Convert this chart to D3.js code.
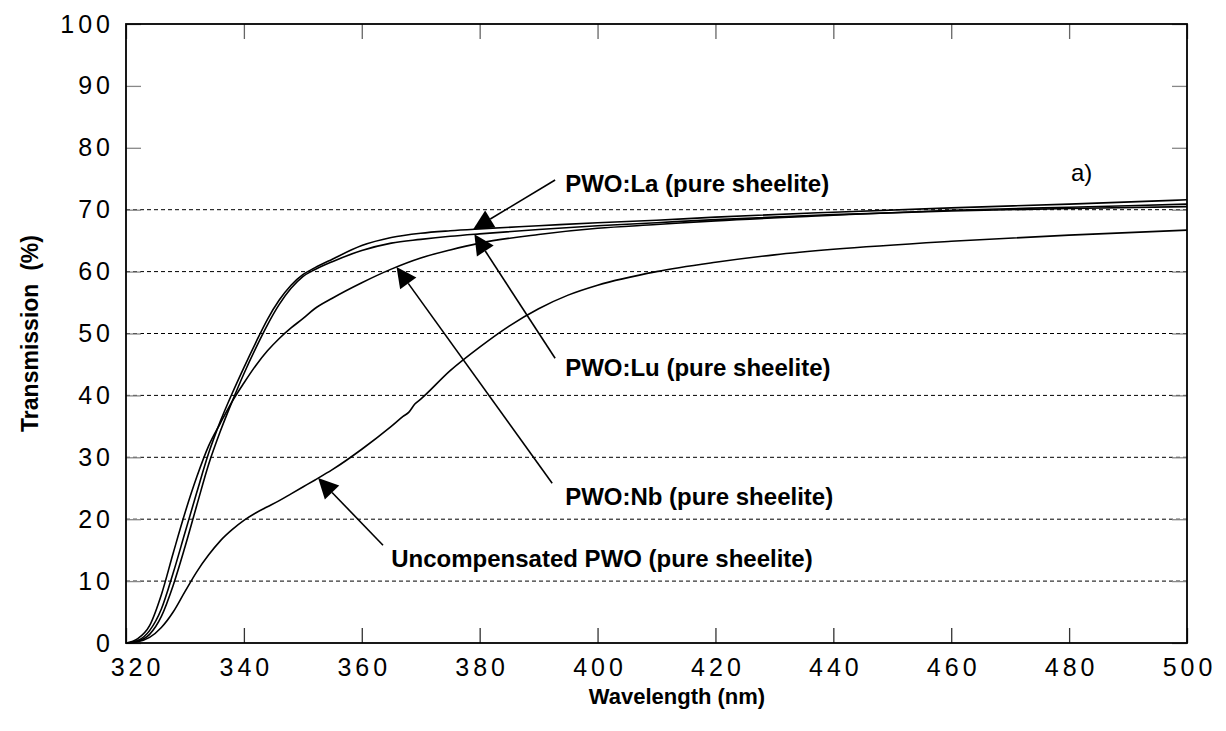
<!DOCTYPE html>
<html>
<head>
<meta charset="utf-8">
<script src="https://cdn.jsdelivr.net/npm/d3@7"></script>
<style>
  body { margin: 0; background: #fff; }
  text { font-family: "Liberation Sans", Arial, Helvetica, sans-serif; fill: #000; }
</style>
</head>
<body>
<svg id="chart" width="1226" height="731"></svg>
<script>
// Transmission spectra of PWO crystals (pure sheelite)
const wavelengths = [320, 322, 324, 326, 328, 330, 332, 334, 336, 338, 340, 342, 344, 346, 348, 350, 352, 355, 360, 365, 370, 375, 380, 390, 400, 410, 420, 440, 460, 480, 500];
const pwoLa = [0, 0.4, 2.0, 5.5, 11.3, 17.8, 24.3, 30.6, 35.8, 40.3, 44.5, 48.5, 52.3, 55.4, 57.8, 59.5, 60.6, 62.0, 64.2, 65.5, 66.2, 66.6, 66.9, 67.4, 67.9, 68.3, 68.8, 69.6, 70.3, 70.9, 71.6];
const pwoLu = [0, 0.3, 1.4, 4.3, 9.3, 15.5, 22.2, 28.8, 34.2, 39.0, 43.5, 47.6, 51.4, 54.7, 57.3, 59.2, 60.3, 61.6, 63.4, 64.6, 65.2, 65.7, 66.1, 66.8, 67.4, 67.9, 68.4, 69.2, 69.8, 70.2, 70.5];
const pwoNb = [0, 0.7, 2.8, 7.8, 14.5, 21.0, 26.8, 31.8, 35.5, 39.0, 42.0, 44.8, 47.2, 49.2, 50.9, 52.4, 54.0, 55.7, 58.2, 60.4, 62.2, 63.5, 64.6, 66.0, 67.0, 67.6, 68.2, 69.1, 69.9, 70.4, 70.9];

const wavelengthsUncomp = [320, 322, 324, 326, 328, 330, 332, 334, 336, 338, 340, 342, 344, 346, 348, 350, 352, 355, 360, 365, 367, 368, 369, 370, 375, 380, 385, 390, 395, 400, 410, 420, 430, 440, 460, 480, 500];
const pwoUncomp = [0, 0.2, 0.9, 2.5, 5.0, 8.3, 11.5, 14.2, 16.5, 18.3, 19.8, 21.0, 22.0, 23.0, 24.1, 25.2, 26.3, 28.0, 31.3, 35.0, 36.6, 37.3, 38.6, 39.4, 44.0, 47.8, 51.2, 54.0, 56.2, 57.8, 60.0, 61.5, 62.7, 63.6, 64.9, 65.9, 66.7];

const xTicks = [320, 340, 360, 380, 400, 420, 440, 460, 480, 500];
const yTicks = [0, 10, 20, 30, 40, 50, 60, 70, 80, 90, 100];
const gridValues = [10, 20, 30, 40, 50, 60, 70];

// Arrow annotations: tip lands on the named curve; tail/label in data units
const annotations = [
  { text: "PWO:La (pure sheelite)", series: "La", tipX: 378.9, tailX: 392.8, tailY: 74.8, labelX: 394.5, labelY: 72.9 },
  { text: "PWO:Lu (pure sheelite)", series: "Lu", tipX: 379.1, tailX: 392.8, tailY: 46.0, labelX: 394.5, labelY: 43.1 },
  { text: "PWO:Nb (pure sheelite)", series: "Nb", tipX: 365.9, tailX: 392.3, tailY: 25.8, labelX: 394.5, labelY: 22.3 },
  { text: "Uncompensated PWO (pure sheelite)", series: "Uncomp", tipX: 352.6, tailX: 363.6, tailY: 15.8, labelX: 365.0, labelY: 12.3 }
];

const seriesList = [
  { key: "La", xs: wavelengths, ys: pwoLa },
  { key: "Lu", xs: wavelengths, ys: pwoLu },
  { key: "Nb", xs: wavelengths, ys: pwoNb },
  { key: "Uncomp", xs: wavelengthsUncomp, ys: pwoUncomp }
];

(function draw() {
  const svg = d3.select("#chart");
  const plotLeft = 126, plotRight = 1187, plotTop = 24, plotBottom = 643;

  const x = d3.scaleLinear().domain([320, 500]).range([plotLeft, plotRight]);
  const y = d3.scaleLinear().domain([0, 100]).range([plotBottom, plotTop]);

  // dashed horizontal grid
  svg.append("g").selectAll("line").data(gridValues).join("line")
    .attr("x1", plotLeft).attr("x2", plotRight)
    .attr("y1", d => y(d)).attr("y2", d => y(d))
    .attr("stroke", "#000").attr("stroke-width", 1)
    .attr("stroke-dasharray", "4,3");

  // axes with inward ticks
  const fontTick = "25px";
  const spacing = 4;
  const gx = svg.append("g").attr("transform", `translate(0,${plotBottom})`)
    .call(d3.axisBottom(x).tickValues(xTicks).tickSize(-15).tickPadding(15).tickFormat(d3.format("d")));
  gx.select(".domain").remove();
  gx.selectAll(".tick line").attr("stroke", "#333").attr("stroke-width", 1.3);
  gx.selectAll(".tick text").attr("font-size", fontTick).attr("font-family", "Liberation Sans, Arial, sans-serif")
    .style("letter-spacing", spacing + "px").attr("fill", "#000")
    .attr("dx", d => d === 320 ? 11 : spacing / 2);

  const gxt = svg.append("g").attr("transform", `translate(0,${plotTop})`)
    .call(d3.axisTop(x).tickValues(xTicks).tickSize(-15).tickFormat(""));
  gxt.select(".domain").remove();
  gxt.selectAll(".tick line").attr("stroke", "#666").attr("stroke-width", 1.3);

  const gy = svg.append("g").attr("transform", `translate(${plotLeft},0)`)
    .call(d3.axisLeft(y).tickValues(yTicks).tickSize(-15).tickPadding(12).tickFormat(d3.format("d")));
  gy.select(".domain").remove();
  gy.selectAll(".tick line").attr("stroke", "#888").attr("stroke-width", 1.3);
  gy.selectAll(".tick text").attr("font-size", fontTick).attr("font-family", "Liberation Sans, Arial, sans-serif")
    .style("letter-spacing", spacing + "px").attr("fill", "#000");

  const gyr = svg.append("g").attr("transform", `translate(${plotRight},0)`)
    .call(d3.axisRight(y).tickValues(yTicks).tickSize(-15).tickFormat(""));
  gyr.select(".domain").remove();
  gyr.selectAll(".tick line").attr("stroke", "#888").attr("stroke-width", 1.3);

  // frame
  svg.append("rect").attr("x", plotLeft).attr("y", plotTop)
    .attr("width", plotRight - plotLeft).attr("height", plotBottom - plotTop)
    .attr("fill", "none").attr("stroke", "#000").attr("stroke-width", 1.8);

  // curves
  const line = d3.line().curve(d3.curveMonotoneX);
  svg.append("g").selectAll("path").data(seriesList).join("path")
    .attr("d", s => line(s.xs.map((w, i) => [x(w), y(s.ys[i])])))
    .attr("fill", "none").attr("stroke", "#000").attr("stroke-width", 1.6);

  // annotations
  function valueAt(s, w) {
    const i = d3.bisectLeft(s.xs, w);
    if (i <= 0) return s.ys[0];
    const x0 = s.xs[i - 1], x1 = s.xs[i];
    const t = (w - x0) / (x1 - x0);
    return s.ys[i - 1] + t * (s.ys[i] - s.ys[i - 1]);
  }
  const gA = svg.append("g");
  annotations.forEach(a => {
    const s = seriesList.find(d => d.key === a.series);
    const tx = x(a.tipX), ty = y(valueAt(s, a.tipX));
    const sx = x(a.tailX), sy = y(a.tailY);
    const dx = sx - tx, dy = sy - ty, len = Math.hypot(dx, dy);
    const ux = dx / len, uy = dy / len;
    const headLen = 20, headHalf = 10;
    const bx = tx + ux * headLen, by = ty + uy * headLen;
    gA.append("line").attr("x1", sx).attr("y1", sy).attr("x2", bx).attr("y2", by)
      .attr("stroke", "#000").attr("stroke-width", 1.6);
    gA.append("path")
      .attr("d", `M${tx},${ty}L${bx - uy * headHalf},${by + ux * headHalf}L${bx + uy * headHalf},${by - ux * headHalf}Z`)
      .attr("fill", "#000");
    gA.append("text").attr("x", x(a.labelX)).attr("y", y(a.labelY))
      .attr("font-size", "24px").attr("font-weight", "bold").text(a.text);
  });

  // panel tag
  svg.append("text").attr("x", x(480.3)).attr("y", y(74.7))
    .attr("font-size", "24px").text("a)");

  // axis titles
  svg.append("text").attr("x", 677).attr("y", 704)
    .attr("text-anchor", "middle").attr("font-size", "22px").attr("font-weight", "bold")
    .text("Wavelength (nm)");
  svg.append("text").attr("transform", `translate(38,${(plotTop + plotBottom) / 2}) rotate(-90)`)
    .attr("text-anchor", "middle").attr("font-size", "23px").attr("font-weight", "bold")
    .style("white-space", "pre").text("Transmission  (%)");
})();
</script>
</body>
</html>
